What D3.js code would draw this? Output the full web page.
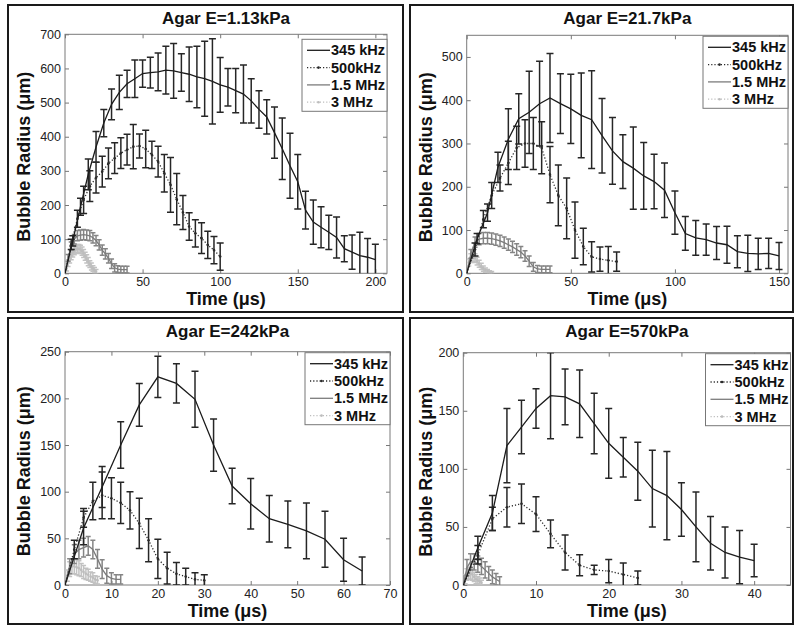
<!DOCTYPE html>
<html>
<head>
<meta charset="utf-8">
<script src="https://cdn.jsdelivr.net/npm/d3@7/dist/d3.min.js"></script>
<style>
    body { margin: 0; background: #fff; }
    svg { display: block; font-family: "Liberation Sans", Arial, sans-serif; }
    .tick line { stroke: #777; }
    .title { font-weight: bold; font-size: 17px; fill: #111; }
    .axis-label { font-weight: bold; font-size: 18px; fill: #111; }
    .legend text { font-weight: bold; font-size: 14.5px; fill: #111; }
</style>
</head>
<body>
<svg id="vis" width="794" height="627"></svg>
<script>
// ---- data (time in us, radius in um, +/- std) ----
const seriesNames = ["345 kHz", "500kHz", "1.5 MHz", "3 MHz"];
const titles = ["Agar E=1.13kPa", "Agar E=21.7kPa", "Agar E=242kPa", "Agar E=570kPa"];

// panel 1 : E = 1.13 kPa
const p1t345 = [0,5,10,15,20,25,30,35,40,45,50,55,60,65,70,75,80,85,90,95,100,105,110,115,120,125,130,135,140,145,150,155,160,165,170,175,180,185,190,195,200];
const p1m345 = [0,95,195,290,370,440,495,530,555,570,585,588,590,595,593,588,583,575,570,562,552,545,535,525,505,480,458,412,365,315,268,185,150,135,120,105,72,62,52,47,40];
const p1e345 = [0,15,25,45,45,40,45,50,40,55,40,45,55,70,80,55,80,90,110,125,80,55,65,85,65,55,50,75,90,95,80,55,65,60,50,60,38,50,68,55,45];
const p1t500 = [0,4,8,12,16,20,24,28,32,36,40,44,48,52,56,60,64,68,72,76,80,84,88,92,96,100];
const p1m500 = [0,85,160,215,255,280,298,322,337,352,362,371,373,364,347,327,293,259,217,178,137,117,103,83,68,49];
const p1e500 = [0,15,25,40,45,45,45,45,45,45,45,65,35,55,40,45,55,80,75,50,40,40,45,40,40,40];
const p1t15 = [0,2,4,6,8,10,12,14,16,18,20,22,24,26,28,30,32,34,36,38,40];
const p1m15 = [0,45,80,100,110,112,113,112,110,104,96,83,68,57,44,28,16,12,11,11,11];
const p1e15 = [0,10,12,14,15,15,15,15,15,15,15,15,15,15,14,14,12,10,10,10,10];
const p1t3 = [0,1,2,3,4,5,6,7,8,9,10,11,12,13,14,15,16,17,18,19,20];
const p1m3 = [0,15,30,42,52,60,66,70,72,72,70,65,58,50,42,34,27,20,14,9,5];
const p1e3 = [0,8,10,12,12,12,12,12,12,12,12,12,12,12,12,12,10,10,8,8,6];

// panel 2 : E = 21.7 kPa
const p2t345 = [0,5,10,15,20,25,30,35,40,45,50,55,60,65,70,75,80,85,90,95,100,105,110,115,120,125,130,135,140,145,150];
const p2m345 = [0,80,140,245,310,357,372,392,405,392,380,365,355,318,283,258,243,225,212,192,140,92,82,78,70,66,50,46,45,46,40];
const p2e345 = [0,12,20,35,70,58,95,98,103,69,80,98,113,86,77,62,95,77,63,63,50,39,40,36,38,43,37,42,36,35,31];
const p2t500 = [0,4,8,12,16,20,24,28,32,36,40,44,48,52,56,60,64,68,72];
const p2m500 = [0,55,125,180,220,255,290,300,300,290,228,180,150,100,62,38,33,30,27];
const p2e500 = [0,15,20,30,30,50,50,55,60,60,65,70,70,65,42,35,28,32,22];
const p2t15 = [0,2,4,6,8,10,12,14,16,18,20,22,24,26,28,30,32,34,36,38,40];
const p2m15 = [0,45,72,79,81,81,80,78,75,71,66,61,55,49,40,28,15,10,9,9,9];
const p2e15 = [0,10,12,13,13,13,13,13,13,13,13,13,13,13,12,12,10,8,8,8,8];
const p2t3 = [0,1,2,3,4,5,6,7,8,9,10,11,12];
const p2m3 = [0,25,35,38,35,28,22,16,11,7,5,3,2];
const p2e3 = [0,8,10,10,10,9,8,7,6,5,4,3,2];

// panel 3 : E = 242 kPa
const p3t345 = [0,4,8,12,16,20,24,28,32,36,40,44,48,52,56,60,64];
const p3m345 = [0,61,105,150,193,223,216,199,150,106,87,71,65,58,49,27,15];
const p3e345 = [0,18,22,25,23,22,21,30,28,19,27,25,25,30,30,23,15];
const p3t500 = [0,2,4,6,8,10,12,14,16,18,20,22,24,26,28,30];
const p3m500 = [0,38,72,90,96,93,88,80,66,48,28,18,12,9,6,5];
const p3e500 = [0,10,10,20,25,22,22,20,27,23,21,17,12,9,7,6];
const p3t15 = [0,1,2,3,4,5,6,7,8,9,10,11,12];
const p3m15 = [0,20,33,38,40,42,38,28,17,10,7,6,6];
const p3e15 = [0,8,10,10,10,10,10,10,10,8,6,5,5];
const p3t3 = [0,0.5,1,1.5,2,2.5,3,3.5,4,4.5,5,5.5,6,6.5,7];
const p3m3 = [0,10,17,20,20,19,18,16,14,12,11,9,8,6,5];
const p3e3 = [0,6,8,8,8,8,8,7,7,6,6,5,5,4,4];

// panel 4 : E = 570 kPa
const p4t345 = [0,2,4,6,8,10,12,14,16,18,20,22,24,26,28,30,32,34,36,38,40];
const p4m345 = [0,32,62,120,136,152,163,162,156,139,122,110,98,83,77,65,50,36,28,24,21];
const p4e345 = [0,10,15,32,23,17,37,24,29,26,30,17,25,33,38,23,30,23,22,23,14];
const p4t500 = [0,2,4,6,8,10,12,14,16,18,20,22,24];
const p4m500 = [0,26,57,67,70,61,44,28,17,13,12,9,6];
const p4e500 = [0,8,10,17,17,15,12,15,9,4,10,10,6];
const p4t15 = [0,0.5,1,1.5,2,2.5,3,3.5,4,4.5,5];
const p4m15 = [0,15,20,20,18,16,13,10,7,5,3];
const p4e15 = [0,7,7,7,7,7,7,6,6,5,4];
const p4t3 = [0,0.25,0.5,0.75,1,1.25,1.5,1.75,2,2.25,2.5];
const p4m3 = [0,5,9,10,10,9,7,5,4,3,2];
const p4e3 = [0,4,5,5,5,5,4,4,3,3,2];

// tick labels
const xTicks = [[0,50,100,150,200], [0,50,100,150], [0,10,20,30,40,50,60,70], [0,10,20,30,40]];
const yTicks = [[0,100,200,300,400,500,600,700], [0,100,200,300,400,500], [0,50,100,150,200,250], [0,50,100,150,200]];

// ---- layout ----
const xLim = [207.5, 154.3, 70, 45];
const yLim = [700, 550, 250, 200];
const frames = [
    { l: 8, t: 5, r: 403, b: 312 },
    { l: 410, t: 5, r: 793, b: 312 },
    { l: 8, t: 318, r: 403, b: 624 },
    { l: 410, t: 318, r: 793, b: 624 }
];
const plots = [
    { l: 65, t: 34.3, r: 387, b: 273.3 },
    { l: 466.7, t: 35.3, r: 788, b: 273.3 },
    { l: 65, t: 351.7, r: 390, b: 585 },
    { l: 463.3, t: 352.7, r: 790.5, b: 585 }
];
const legendDrop = [5, 1, 1, 1];

const seriesStyle = [
    { color: "#1c1c1c", err: "#262626", dash: null, dots: false, cap: 7 },
    { color: "#2a2a2a", err: "#262626", dash: "1.2,2", dots: true, cap: 7 },
    { color: "#7c7c7c", err: "#858585", dash: null, dots: false, cap: 5 },
    { color: "#bdbdbd", err: "#c2c2c2", dash: "1.2,2", dots: true, cap: 5 }
];

function series(t, m, e) {
    return t.map((d, i) => ({ t: d, m: m[i], e: e[i] }));
}

const panelData = [
    [series(p1t345, p1m345, p1e345), series(p1t500, p1m500, p1e500), series(p1t15, p1m15, p1e15), series(p1t3, p1m3, p1e3)],
    [series(p2t345, p2m345, p2e345), series(p2t500, p2m500, p2e500), series(p2t15, p2m15, p2e15), series(p2t3, p2m3, p2e3)],
    [series(p3t345, p3m345, p3e345), series(p3t500, p3m500, p3e500), series(p3t15, p3m15, p3e15), series(p3t3, p3m3, p3e3)],
    [series(p4t345, p4m345, p4e345), series(p4t500, p4m500, p4e500), series(p4t15, p4m15, p4e15), series(p4t3, p4m3, p4e3)]
];

const svg = d3.select("#vis");

panelData.forEach((data, p) => {
    const f = frames[p];
    const pl = plots[p];

    // panel frame
    svg.append("rect")
        .attr("x", f.l).attr("y", f.t)
        .attr("width", f.r - f.l).attr("height", f.b - f.t)
        .attr("fill", "none")
        .attr("stroke", "#1a1a1a")
        .attr("stroke-width", 2);

    const x = d3.scaleLinear().domain([0, xLim[p]]).range([pl.l, pl.r]);
    const y = d3.scaleLinear().domain([0, yLim[p]]).range([pl.b, pl.t]);

    const g = svg.append("g");

    // axes, ticks pointing inward on all four sides (matlab box style)
    g.append("g")
        .attr("transform", `translate(0,${pl.b})`)
        .call(d3.axisBottom(x).tickValues(xTicks[p]).tickSize(-4).tickPadding(4))
        .call(a => a.select(".domain").remove());
    g.append("g")
        .attr("transform", `translate(0,${pl.t})`)
        .call(d3.axisTop(x).tickValues(xTicks[p]).tickSize(-4).tickFormat(""))
        .call(a => a.select(".domain").remove());
    g.append("g")
        .attr("transform", `translate(${pl.l},0)`)
        .call(d3.axisLeft(y).tickValues(yTicks[p]).tickSize(-4).tickPadding(4))
        .call(a => a.select(".domain").remove());
    g.append("g")
        .attr("transform", `translate(${pl.r},0)`)
        .call(d3.axisRight(y).tickValues(yTicks[p]).tickSize(-4).tickFormat(""))
        .call(a => a.select(".domain").remove());
    g.selectAll(".tick text")
        .attr("fill", "#222")
        .attr("font-size", 12.5)
        .attr("font-family", "'Liberation Sans', Arial, sans-serif");

    g.append("rect")
        .attr("x", pl.l).attr("y", pl.t)
        .attr("width", pl.r - pl.l).attr("height", pl.b - pl.t)
        .attr("fill", "none")
        .attr("stroke", "#7a7a7a")
        .attr("stroke-width", 1);

    // clip for marks
    const clipId = "clip" + p;
    svg.append("clipPath").attr("id", clipId)
        .append("rect")
        .attr("x", pl.l).attr("y", pl.t)
        .attr("width", pl.r - pl.l).attr("height", pl.b - pl.t);

    const marks = g.append("g").attr("clip-path", `url(#${clipId})`);

    const line = d3.line()
        .x(d => x(d.t))
        .y(d => y(d.m))
        .curve(d3.curveLinear);

    // draw 3 MHz first so 345 kHz sits on top
    [3, 2, 1, 0].forEach(s => {
        const st = seriesStyle[s];
        const sg = marks.append("g");
        const pts = data[s].filter(d => d.e > 0);

        sg.selectAll(".eb")
            .data(pts)
            .join("path")
            .attr("d", d => {
                const xx = x(d.t), y0 = y(d.m - d.e), y1 = y(d.m + d.e), c = st.cap / 2;
                return `M${xx},${y0}V${y1}M${xx - c},${y0}H${xx + c}M${xx - c},${y1}H${xx + c}`;
            })
            .attr("fill", "none")
            .attr("stroke", st.err)
            .attr("stroke-width", 1.5);

        sg.append("path")
            .attr("d", line(data[s]))
            .attr("fill", "none")
            .attr("stroke", st.color)
            .attr("stroke-width", 1.3)
            .attr("stroke-dasharray", st.dash);

        if (st.dots) {
            sg.selectAll(".dot")
                .data(data[s])
                .join("circle")
                .attr("cx", d => x(d.t))
                .attr("cy", d => y(d.m))
                .attr("r", 1.3)
                .attr("fill", st.color);
        }
    });

    // title
    svg.append("text")
        .attr("class", "title")
        .attr("text-anchor", "middle")
        .attr("x", (pl.l + pl.r) / 2)
        .attr("y", f.t + 19)
        .text(titles[p]);

    // x label
    svg.append("text")
        .attr("class", "axis-label")
        .attr("text-anchor", "middle")
        .attr("x", (pl.l + pl.r) / 2)
        .attr("y", f.b - 7)
        .text("Time (μs)");

    // y label
    svg.append("text")
        .attr("class", "axis-label")
        .attr("text-anchor", "middle")
        .attr("transform", `translate(${f.l + 22},${(pl.t + pl.b) / 2 + 3}) rotate(-90)`)
        .text("Bubble Radius (μm)");

    // legend
    const lw = 85, lh = 72;
    const lg = svg.append("g")
        .attr("class", "legend")
        .attr("transform", `translate(${pl.r - lw},${pl.t + legendDrop[p]})`);
    lg.append("rect")
        .attr("width", lw).attr("height", lh)
        .attr("fill", "#fff")
        .attr("stroke", "#777")
        .attr("stroke-width", 1);
    seriesNames.forEach((name, s) => {
        const st = seriesStyle[s];
        const yy = 11 + s * 17.3;
        lg.append("line")
            .attr("x1", 5).attr("x2", 28)
            .attr("y1", yy).attr("y2", yy)
            .attr("stroke", st.color)
            .attr("stroke-width", 1.3)
            .attr("stroke-dasharray", st.dash);
        if (st.dots) {
            lg.append("circle")
                .attr("cx", 16.5).attr("cy", yy).attr("r", 1.3)
                .attr("fill", st.color);
        }
        lg.append("text")
            .attr("x", 29)
            .attr("y", yy)
            .attr("dy", "0.35em")
            .text(name);
    });
});
</script>
</body>
</html>
